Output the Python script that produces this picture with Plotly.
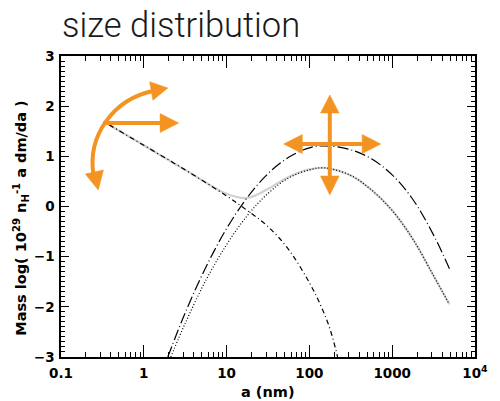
import plotly.graph_objects as go

# ---------------- data ----------------
# small-grain component (dash-dot)
small_a = [0.38, 1.0, 3.16, 10.0, 17.8, 31.6, 56.2, 100.0, 141.0, 178.0, 219.0]
small_y = [1.63, 1.22, 0.73, 0.21, -0.08, -0.40, -0.86, -1.52, -2.02, -2.45, -3.0]

# large-grain component (long dash)
large_a = [1.95, 3.16, 5.62, 10.0, 17.8, 31.6, 56.2, 100.0, 155.0, 316.0, 562.0, 1000.0, 1778.0, 3162.0, 5012.0]
large_y = [-3.0, -2.12, -1.21, -0.44, 0.18, 0.655, 0.98, 1.17, 1.21, 1.13, 0.95, 0.63, 0.14, -0.57, -1.27]

# dotted component
dot_a = [2.12, 3.16, 5.62, 10.0, 17.8, 31.6, 56.2, 100.0, 151.0, 316.0, 562.0, 1000.0, 1778.0, 3162.0, 4898.0]
dot_y = [-3.0, -2.33, -1.47, -0.76, -0.18, 0.26, 0.57, 0.73, 0.77, 0.62, 0.33, -0.08, -0.65, -1.38, -1.95]

# total (light grey)
tot_a = [0.38, 1.0, 3.16, 10.0, 17.8, 31.6, 56.2, 100.0, 151.0, 316.0, 562.0, 1000.0, 1778.0, 3162.0, 4898.0]
tot_y = [1.63, 1.22, 0.73, 0.255, 0.17, 0.35, 0.59, 0.74, 0.77, 0.62, 0.33, -0.08, -0.65, -1.38, -1.95]

x_tickvals = [0.1, 1, 10, 100, 1000, 10000]
x_ticktext = ["0.1", "1", "10", "100", "1000", "10<sup>4</sup>"]
x_minor = [m * d for d in [0.1, 1, 10, 100, 1000] for m in range(2, 10)]
y_tickvals = [-3, -2, -1, 0, 1, 2, 3]

# ---------------- layout geometry ----------------
W, H = 500, 401
L, R, T, B = 61, 17, 56, 44
PW, PH = W - L - R, H - T - B
ORANGE = "#F39422"

def px(x, y):
    return ((x - L) / PW, (H - B - y) / PH)

def pt(x, y):
    a, b = px(x, y)
    return f"{a:.5f},{b:.5f}"

def head(tip, base, width):
    tx, ty = tip
    bx, by = base
    dx, dy = tx - bx, ty - by
    n = (dx * dx + dy * dy) ** 0.5
    nx, ny = -dy / n * width / 2, dx / n * width / 2
    return f"M {pt(tx, ty)} L {pt(bx + nx, by + ny)} L {pt(bx - nx, by - ny)} Z"

fig = go.Figure()
fig.add_trace(go.Scatter(x=tot_a, y=tot_y, mode="lines", line=dict(color="#d0d0d0", width=2.2, shape="spline", smoothing=1.0), hoverinfo="skip"))
fig.add_trace(go.Scatter(x=small_a, y=small_y, mode="lines", line=dict(color="black", width=1.2, dash="5px,3px,1px,3px", shape="spline", smoothing=1.0)))
fig.add_trace(go.Scatter(x=large_a, y=large_y, mode="lines", line=dict(color="black", width=1.2, dash="11px,3px,1px,3px", shape="spline", smoothing=1.0)))
fig.add_trace(go.Scatter(x=dot_a, y=dot_y, mode="lines", line=dict(color="black", width=1.2, dash="1px,2px", shape="spline", smoothing=1.0)))

shapes = []
lw = 4
def seg(p1, p2):
    shapes.append(dict(type="path", xref="paper", yref="paper",
                       path=f"M {pt(*p1)} L {pt(*p2)}", line=dict(color=ORANGE, width=lw)))
def tri(tip, base, w=19):
    shapes.append(dict(type="path", xref="paper", yref="paper", path=head(tip, base, w),
                       fillcolor=ORANGE, line=dict(color=ORANGE, width=0.5)))

# curved arrow
shapes.append(dict(type="path", xref="paper", yref="paper",
                   path=f"M {pt(155,91)} C {pt(115,99)} {pt(88,135)} {pt(94,174)}",
                   line=dict(color=ORANGE, width=lw)))
tri((170, 88), (153, 91))
tri((99, 190), (95, 172))
# horizontal arrow
seg((104, 123), (164, 123))
tri((181, 123), (162, 123))
# cross arrows
seg((335, 111), (335, 178))
tri((335, 95), (335, 113))
tri((335, 195), (335, 176))
seg((305, 144), (370, 144))
tri((288, 144), (307, 144))
tri((387, 144), (368, 144))

AX_FONT = dict(family="DejaVu Sans", size=13.5, weight="bold", color="black")
TITLE_FONT = dict(family="DejaVu Sans", size=14.5, weight="bold", color="black")

fig.update_layout(
    width=W, height=H,
    margin=dict(l=L, r=R, t=T, b=B),
    paper_bgcolor="white", plot_bgcolor="white",
    showlegend=False,
    shapes=shapes,
    font=dict(family="DejaVu Sans", size=12, color="black"),
    annotations=[
        dict(text="size distribution", xref="paper", yref="paper",
             x=px(60, 0)[0], y=px(0, 47)[1], xanchor="left", yanchor="bottom",
             showarrow=False, font=dict(family="Roboto", size=34.5, color="#1a1a1a", weight=300)),
        dict(text="Mass log( 10<sup>29</sup> n<sub>H</sub><sup>-1</sup> a dm/da )", xref="paper", yref="paper",
             x=px(20, 0)[0], y=px(0, 218)[1], xanchor="center", yanchor="middle", textangle=-90,
             showarrow=False, font=TITLE_FONT),
        dict(text="a (nm)", xref="paper", yref="paper",
             x=px(272, 0)[0], y=px(0, 392)[1], xanchor="center", yanchor="middle",
             showarrow=False, font=TITLE_FONT),
    ],
)
fig.update_xaxes(type="log", range=[-1, 4], tickmode="array", tickvals=x_tickvals, ticktext=x_ticktext,
                 ticks="inside", ticklen=12, tickwidth=1.2, tickcolor="black",
                 minor=dict(tickmode="array", tickvals=x_minor, ticks="inside", ticklen=5, tickwidth=1.2, tickcolor="black"),
                 showline=True, linecolor="black", linewidth=1.5, mirror="allticks", showgrid=False, zeroline=False,
                 tickfont=AX_FONT, ticklabelstandoff=3)
fig.update_yaxes(range=[-3, 3], tickmode="array", tickvals=y_tickvals,
                 ticks="inside", ticklen=8, tickwidth=1.2, tickcolor="black",
                 minor=dict(dtick=0.1, ticks="inside", ticklen=4, tickwidth=1.2, tickcolor="black"),
                 showline=True, linecolor="black", linewidth=1.5, mirror="allticks", showgrid=False, zeroline=False,
                 tickfont=AX_FONT, ticklabelstandoff=2)

fig.write_html("out.html")
